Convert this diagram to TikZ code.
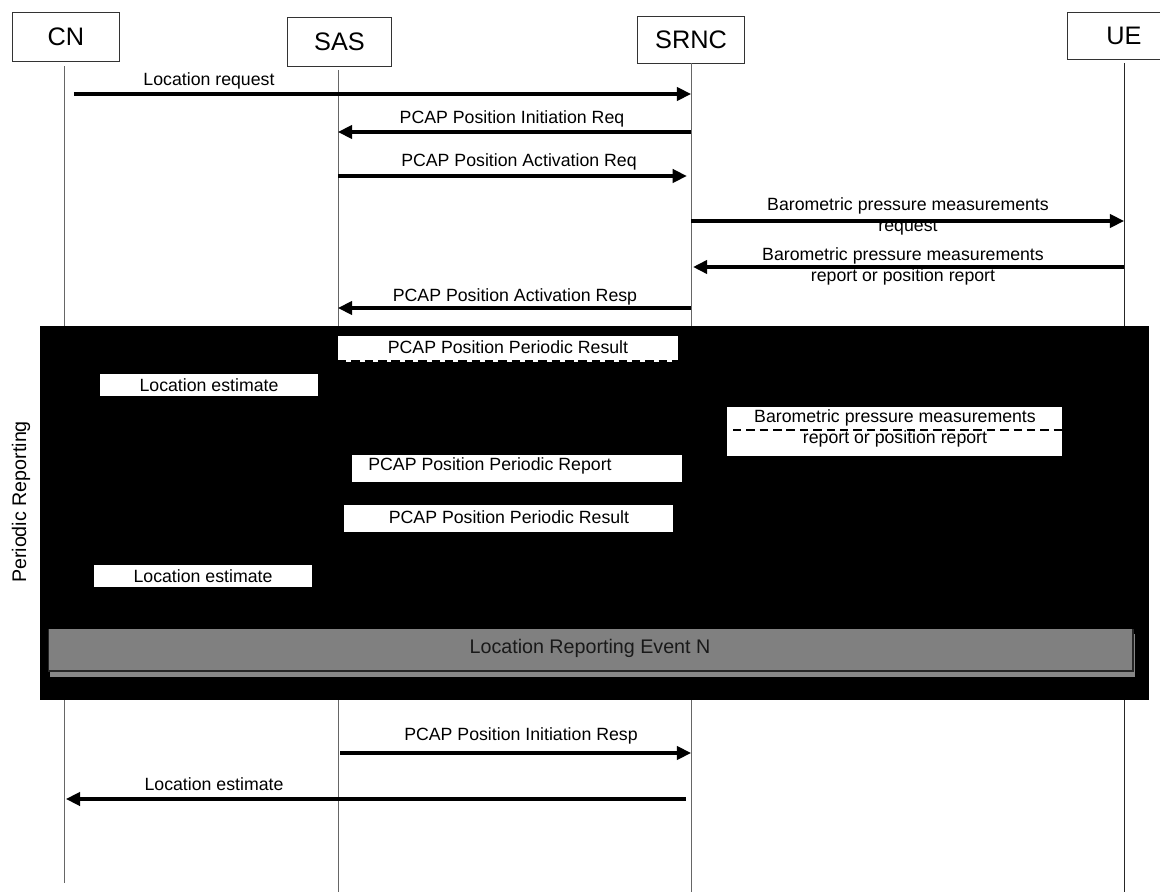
\documentclass[tikz,border=0pt]{standalone}
\usepackage{fontspec}
\setmainfont{Liberation Sans}
\usetikzlibrary{arrows.meta}

\tikzset{
  head/.style={draw=black!80, line width=0.7pt, minimum height=1.2cm, font=\fontsize{18}{20}\selectfont},
  life/.style={draw=black!60, line width=0.7pt},
  msg/.style={line width=2.2pt, -{Triangle[length=10pt,width=9.5pt]}},
  lbl/.style={font=\fontsize{12.6}{15}\selectfont, inner sep=0pt, align=center},
  dashmsg/.style={line width=2pt, dash pattern=on 6pt off 3.5pt},
}

\begin{document}
\begin{tikzpicture}[x=0.025cm,y=-0.025cm]
  \useasboundingbox (0,0) rectangle (1160,892);
  % entities
  \node[head, minimum width=2.65cm] (cn) at (66,37) {CN};
  \node[head, minimum width=2.62cm] (sas) at (339.5,42) {SAS};
  \node[head, minimum width=2.65cm, minimum height=1.15cm] (srnc) at (691,40) {SRNC};
  \node[head, minimum width=2.85cm, minimum height=1.15cm] (ue) at (1124,36) {UE};
  \coordinate (cnend) at (64,883);
  \coordinate (sasend) at (338,892);
  \coordinate (srncend) at (691,892);
  \coordinate (ueend) at (1124,892);
  \draw[life] (cnend |- cn.south) ++(0,5) -- (cnend);
  \draw[life] (sasend |- sas.south) ++(0,4) -- (sasend);
  \draw[life] (srncend |- srnc.south) -- (srncend);
  \draw[life, draw=black!85] (ueend |- ue.south) ++(0,4) -- (ueend);

  % set-up messages
  \draw[msg, shorten <=7pt] (cnend |- 0,94) -- (srncend |- 0,94);
  \node[lbl] (m1) at (209,81) {Location request};
  \draw[msg] (srncend |- 0,132) -- (sasend |- 0,132);
  \node[lbl] (m2) at (512,119) {PCAP Position Initiation Req};
  \draw[msg, shorten >=3pt] (sasend |- 0,176) -- (srncend |- 0,176);
  \node[lbl] (m3) at (519,162) {PCAP Position Activation Req};
  \draw[msg] (srncend |- 0,221) -- (ueend |- 0,221);
  \node[lbl] (m4) at (908,216) {Barometric pressure measurements\\request};
  \draw[msg, shorten >=1.5pt] (ueend |- 0,267) -- (srncend |- 0,267);
  \node[lbl] (m5) at (903,266.5) {Barometric pressure measurements\\report or position report};
  \draw[msg] (srncend |- 0,308) -- (sasend |- 0,308);
  \node[lbl] (m6) at (515,297) {PCAP Position Activation Resp};

  % periodic part
  \fill (40,326) rectangle (1149,700);
  \node[font=\fontsize{14}{16}\selectfont, rotate=90] (per) at (21,502) {Periodic Reporting};
  \fill[white] (338,336) rectangle (678,362);
  \draw[dashmsg] (338,361) -- (678,361);
  \node[lbl] (p1) at (508,347) {PCAP Position Periodic Result};
  \fill[white] (100,374) rectangle (318,396);
  \node[lbl] (p2) at (209,385) {Location estimate};
  \fill[white] (727,407) rectangle (1062,456);
  \draw[dashmsg] (733,430) -- (1062,430);
  \node[lbl] (p3) at (895,428) {Barometric pressure measurements\\report or position report};
  \fill[white] (352,455) rectangle (682,482);
  \node[lbl] (p4) at (490,466) {PCAP Position Periodic Report};
  \fill[white] (344,505) rectangle (673,532);
  \node[lbl] (p5) at (509,517) {PCAP Position Periodic Result};
  \fill[white] (94,565) rectangle (312,587);
  \node[lbl] (p6) at (203,576) {Location estimate};
  \fill[black!47] (50,634) rectangle (1135,677);
  \fill[black!50] (48,629) rectangle (1133,671);
  \draw[black!85, line width=0.8pt] (48.5,629) -- (48.5,671) -- (1133,671) -- (1133,629);
  \node[font=\fontsize{14}{16}\selectfont, text=black!90] (evn) at (590,648) {Location Reporting Event N};

  % closing messages
  \draw[msg, shorten <=1.5pt] (sasend |- 0,753) -- (srncend |- 0,753);
  \node[lbl] (m7) at (521,736) {PCAP Position Initiation Resp};
  \draw[msg, shorten <=3.5pt] (srncend |- 0,799) -- ([xshift=1.4pt]cnend |- 0,799);
  \node[lbl] (m8) at (214,784) {Location estimate};
\end{tikzpicture}
\end{document}
